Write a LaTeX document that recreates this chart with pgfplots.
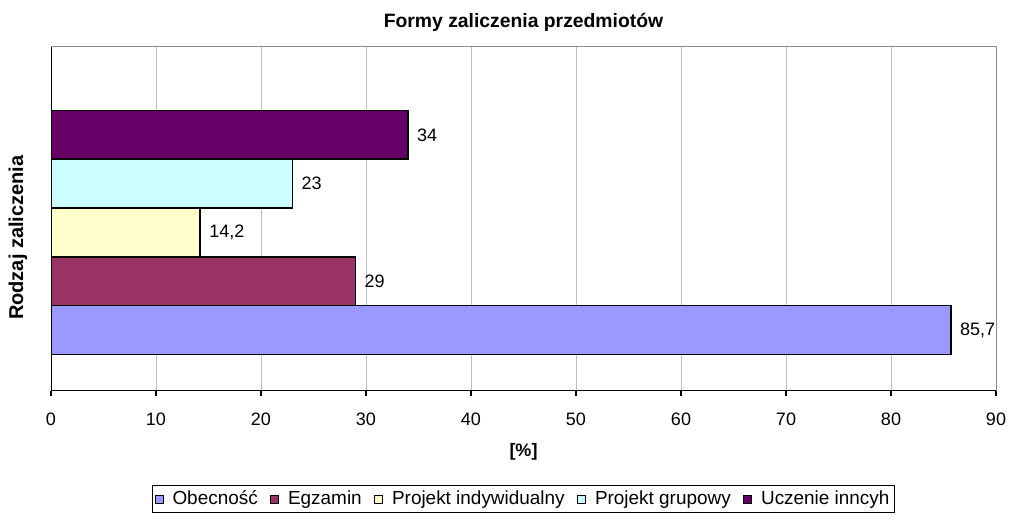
\documentclass[border=0pt]{standalone}
\usepackage{fontspec}
\setmainfont{Liberation Sans}
\usepackage{pgfplots}
\pgfplotsset{compat=1.18}
\definecolor{cObe}{HTML}{9999FF}
\definecolor{cEgz}{HTML}{993366}
\definecolor{cPin}{HTML}{FFFFCC}
\definecolor{cPgr}{HTML}{CCFFFF}
\definecolor{cUcz}{HTML}{660066}
\pgfplotsset{sqleg/.style={legend image code/.code={\draw[##1,draw=black,line width=0.75pt] (0pt,-3pt) rectangle (6pt,3pt);}}}
\begin{document}
\begin{tikzpicture}
\useasboundingbox (0,0) rectangle (756.75pt,390pt);
\begin{axis}[
  at={(38.25pt,96.75pt)}, anchor=south west,
  scale only axis, width=708.75pt, height=258pt,
  xbar, bar width=1, bar shift=0pt,
  xmin=0, xmax=90, ymin=-1.25, ymax=5.8,
  xtick={0,10,...,90}, ytick=\empty,
  xtick pos=bottom, tick align=outside, major tick length=4pt,
  xmajorgrids, grid style={draw=black!25, line width=0.75pt},
  axis line style={draw=black!45, line width=0.75pt},
  tick style={draw=black, line width=1.2pt},
  ticklabel style={font=\fontsize{13.5}{16}\selectfont},
  xticklabel style={yshift=-9pt},
  /pgf/number format/assume math mode=true,
  title={Formy zaliczenia przedmiotów},
  title style={font=\bfseries\fontsize{14.5}{17}\selectfont, at={(0.5,1)}, anchor=center, yshift=12.75pt},
  xlabel={[\%]},
  xlabel style={font=\bfseries\fontsize{13.5}{16}\selectfont, at={(0.5,0)}, anchor=center, yshift=-46pt},
  ylabel={Rodzaj zaliczenia},
  ylabel style={font=\bfseries\fontsize{15}{17}\selectfont, at={([xshift=-24.75pt,yshift=-14pt]axis description cs:0,0.5)}, anchor=center},
  legend columns=-1,
  legend style={at={(0.5,-0.314)}, anchor=center, draw=black, line width=0.75pt,
    font=\fontsize{14.2}{16}\selectfont, inner sep=2pt,
    /tikz/every odd column/.append style={column sep=4.5pt},
    /tikz/every even column/.append style={column sep=7.5pt}},
  point meta=explicit symbolic,
  nodes near coords,
  nodes near coords style={font=\fontsize{13.5}{16}\selectfont, black, anchor=west, xshift=3pt},
]
\addplot[fill=cObe, draw=black, line width=1.1pt, sqleg] coordinates {(85.7,0) [85,7]};
\addlegendentry{Obecność}
\addplot[fill=cEgz, draw=black, line width=1.1pt, sqleg] coordinates {(29,1) [29]};
\addlegendentry{Egzamin}
\addplot[fill=cPin, draw=black, line width=1.1pt, sqleg] coordinates {(14.2,2) [14,2]};
\addlegendentry{Projekt indywidualny}
\addplot[fill=cPgr, draw=black, line width=1.1pt, sqleg] coordinates {(23,3) [23]};
\addlegendentry{Projekt grupowy}
\addplot[fill=cUcz, draw=black, line width=1.1pt, sqleg] coordinates {(34,4) [34]};
\addlegendentry{Uczenie inncyh}
\draw[black, line width=1.5pt] (rel axis cs:0,1) -- (rel axis cs:0,0) -- (rel axis cs:1,0);
\end{axis}
\end{tikzpicture}
\end{document}
